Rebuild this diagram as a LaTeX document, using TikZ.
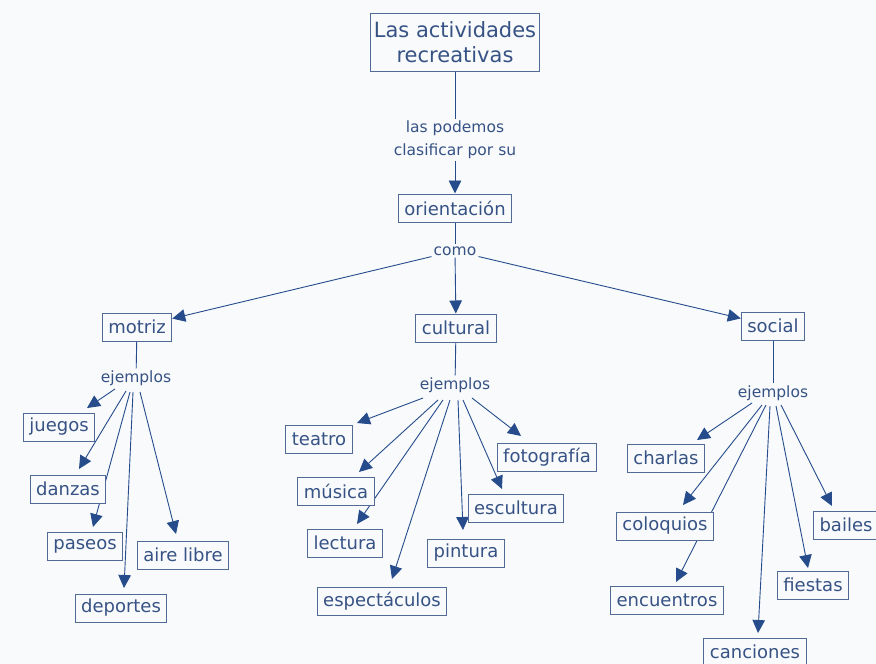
\documentclass[tikz,border=0pt]{standalone}
\usepackage{fontspec}
\setmainfont{DejaVu Sans}
\usetikzlibrary{arrows.meta,calc}
\definecolor{bgc}{RGB}{248,250,252}
\definecolor{textc}{RGB}{55,82,132}
\definecolor{boxc}{RGB}{82,106,150}
\definecolor{arrc}{RGB}{38,76,140}
\pgfdeclarelayer{back}
\pgfdeclarelayer{lines}
\pgfsetlayers{back,lines,main}
\begin{document}
\begin{tikzpicture}[x=1pt,y=-1pt,
  box/.style={draw=boxc,line width=1pt,fill=bgc,text=textc,
    font=\fontsize{18}{21}\selectfont,inner xsep=6pt,inner ysep=0pt,
    minimum height=28pt},
  lab/.style={text=textc,font=\fontsize{15.5}{23}\selectfont,inner sep=2pt,align=center},
  ln/.style={draw=arrc,line width=0.9pt},
  arr/.style={ln,-{Triangle[length=13pt,width=12.5pt]}}]

\useasboundingbox (0,0) rectangle (876,664);
\begin{pgfonlayer}{back}
  \fill[bgc] (0,0) rectangle (876,664);
\end{pgfonlayer}

% top
\node[box,font=\fontsize{21}{25}\selectfont,align=center,inner xsep=3pt,minimum height=58pt] (title) at (455,42) {Las actividades\\recreativas};
\node[lab] (lab1) at (455,140) {las podemos\\clasificar por su};
\node[box] (orient) at (455,208) {orientación};
\node[lab] (como) at (455,251) {como};

\node[box] (motriz) at (137,327) {motriz};
\node[box] (cultural) at (456,328) {cultural};
\node[box] (social) at (773,326) {social};

\node[lab] (mej) at (136,378) {ejemplos};
\node[lab] (cej) at (455,385) {ejemplos};
\node[lab] (sej) at (773,393) {ejemplos};

% motriz examples
\node[box] (juegos) at (59,427) {juegos};
\node[box] (danzas) at (68,489) {danzas};
\node[box] (paseos) at (85,546) {paseos};
\node[box] (aire) at (183,555) {aire libre};
\node[box] (deportes) at (121,608) {deportes};

% cultural examples
\node[box] (teatro) at (319,439) {teatro};
\node[box] (musica) at (336,491) {música};
\node[box] (lectura) at (345,543) {lectura};
\node[box] (espect) at (382,601) {espectáculos};
\node[box] (pintura) at (466,553) {pintura};
\node[box] (escultura) at (516,508) {escultura};
\node[box] (foto) at (547,457) {fotografía};

% social examples
\node[box] (charlas) at (666,458) {charlas};
\node[box] (coloquios) at (665,526) {coloquios};
\node[box] (encuentros) at (667,600) {encuentros};
\node[box] (canciones) at (755,652) {canciones};
\node[box] (fiestas) at (813,585) {fiestas};
\node[box] (bailes) at (846,525) {bailes};

\begin{pgfonlayer}{lines}
  \draw[ln] (title) -- (lab1);
  \draw[arr] (lab1) -- (orient);
  \draw[ln] (orient) -- (como);
  \draw[arr] (como) -- (motriz);
  \draw[arr] (como) -- (cultural);
  \draw[arr] (como) -- (social);
  \draw[ln] (motriz) -- (mej);
  \draw[ln] (cultural) -- (cej);
  \draw[ln] (social) -- (sej);

  \draw[arr] ($(mej)+(-21,11)$) -- ($(juegos)+(28,-19)$);
  \draw[arr] ($(mej)+(-10,13)$) -- ($(danzas)+(11,-20)$);
  \draw[arr] ($(mej)+(-6,14)$) -- ($(paseos)+(8,-19)$);
  \draw[arr] ($(mej)+(-3,14)$) -- ($(deportes)+(3,-20)$);
  \draw[arr] ($(mej)+(4,14)$) -- ($(aire)+(-7,-21)$);

  \draw[arr] ($(cej)+(-32,13)$) -- ($(teatro)+(38,-16)$);
  \draw[arr] ($(cej)+(-17,15)$) -- ($(musica)+(23,-19)$);
  \draw[arr] ($(cej)+(-12,15)$) -- ($(lectura)+(12,-19)$);
  \draw[arr] ($(cej)+(-5,15)$) -- ($(espect)+(10,-22)$);
  \draw[arr] ($(cej)+(3,15)$) -- ($(pintura)+(-3,-23)$);
  \draw[arr] ($(cej)+(8,15)$) -- ($(escultura)+(-14,-19)$);
  \draw[arr] ($(cej)+(17,13)$) -- ($(foto)+(-26,-21)$);

  \draw[arr] ($(sej)+(-21,10)$) -- ($(charlas)+(31,-18)$);
  \draw[arr] ($(sej)+(-11,12)$) -- ($(coloquios)+(18,-21)$);
  \draw[arr] ($(sej)+(-7,12)$) -- ($(encuentros)+(9,-18)$);
  \draw[arr] ($(sej)+(-3,13)$) -- ($(canciones)+(3,-19)$);
  \draw[arr] ($(sej)+(3,13)$) -- ($(fiestas)+(-5,-17)$);
  \draw[arr] ($(sej)+(8,12)$) -- ($(bailes)+(-14,-19)$);
\end{pgfonlayer}
\end{tikzpicture}
\end{document}
